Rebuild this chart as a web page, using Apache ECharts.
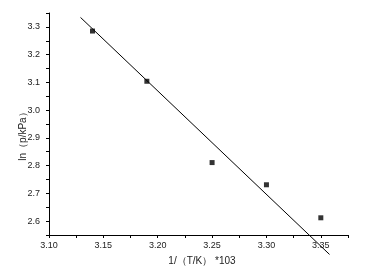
<!DOCTYPE html>
<html>
<head>
<meta charset="utf-8">
<script src="https://cdn.jsdelivr.net/npm/echarts@6/dist/echarts.min.js"></script>
<style>html,body{margin:0;padding:0;background:#fff;}#c{width:369px;height:278px;}</style>
</head>
<body>
<div id="c"></div>
<script>
var xValues = [3.140, 3.190, 3.250, 3.300, 3.350];
var yValues = [3.285, 3.104, 2.811, 2.731, 2.612];
var fitX = [3.129, 3.358];
var fitY = [3.334, 2.480];
var xTitle = '1/（T/K） *103';
var yTitle = 'ln（p/kPa）';

var chart = echarts.init(document.getElementById('c'));
var font = 'Liberation Sans, Arial, sans-serif';
chart.setOption({
  animation: false,
  backgroundColor: '#fff',
  grid: { left: 49, right: 21, top: 13, bottom: 43 },
  xAxis: {
    type: 'value', min: 3.10, max: 3.375, interval: 0.025,
    name: xTitle, nameLocation: 'middle', nameGap: 21, nameMoveOverlap: false,
    nameTextStyle: { fontFamily: font, fontSize: 10, color: '#222', padding: [0, 0, 0, 7] },
    splitLine: { show: false },
    axisLine: { lineStyle: { color: '#000', width: 1 } },
    axisTick: { length: 3, lineStyle: { color: '#000' } },
    axisLabel: {
      margin: 6, fontFamily: font, fontSize: 9, color: '#222',
      formatter: function (v) { return Math.round(v * 1000) % 50 === 0 ? v.toFixed(2) : ''; }
    }
  },
  yAxis: {
    type: 'value', min: 2.55, max: 3.35, interval: 0.05,
    name: yTitle, nameLocation: 'middle', nameGap: 21, nameMoveOverlap: false,
    nameTextStyle: { fontFamily: font, fontSize: 10, color: '#222', padding: [0, 20, 0, 0] },
    splitLine: { show: false },
    axisLine: { show: true, lineStyle: { color: '#000', width: 1 } },
    axisTick: { show: true, length: 3, lineStyle: { color: '#000' } },
    axisLabel: {
      margin: 9, fontFamily: font, fontSize: 9, color: '#222',
      formatter: function (v) { return Math.round(v * 100) % 10 === 0 ? v.toFixed(1) : ''; }
    }
  },
  series: [
    {
      type: 'line', data: fitX.map(function (x, i) { return [x, fitY[i]]; }),
      showSymbol: false, symbol: 'none', clip: false,
      lineStyle: { color: '#000', width: 1 }
    },
    {
      type: 'scatter', data: xValues.map(function (x, i) { return [x, yValues[i]]; }),
      symbol: 'rect', symbolSize: 5, itemStyle: { color: '#000' }
    }
  ]
});
</script>
</body>
</html>
